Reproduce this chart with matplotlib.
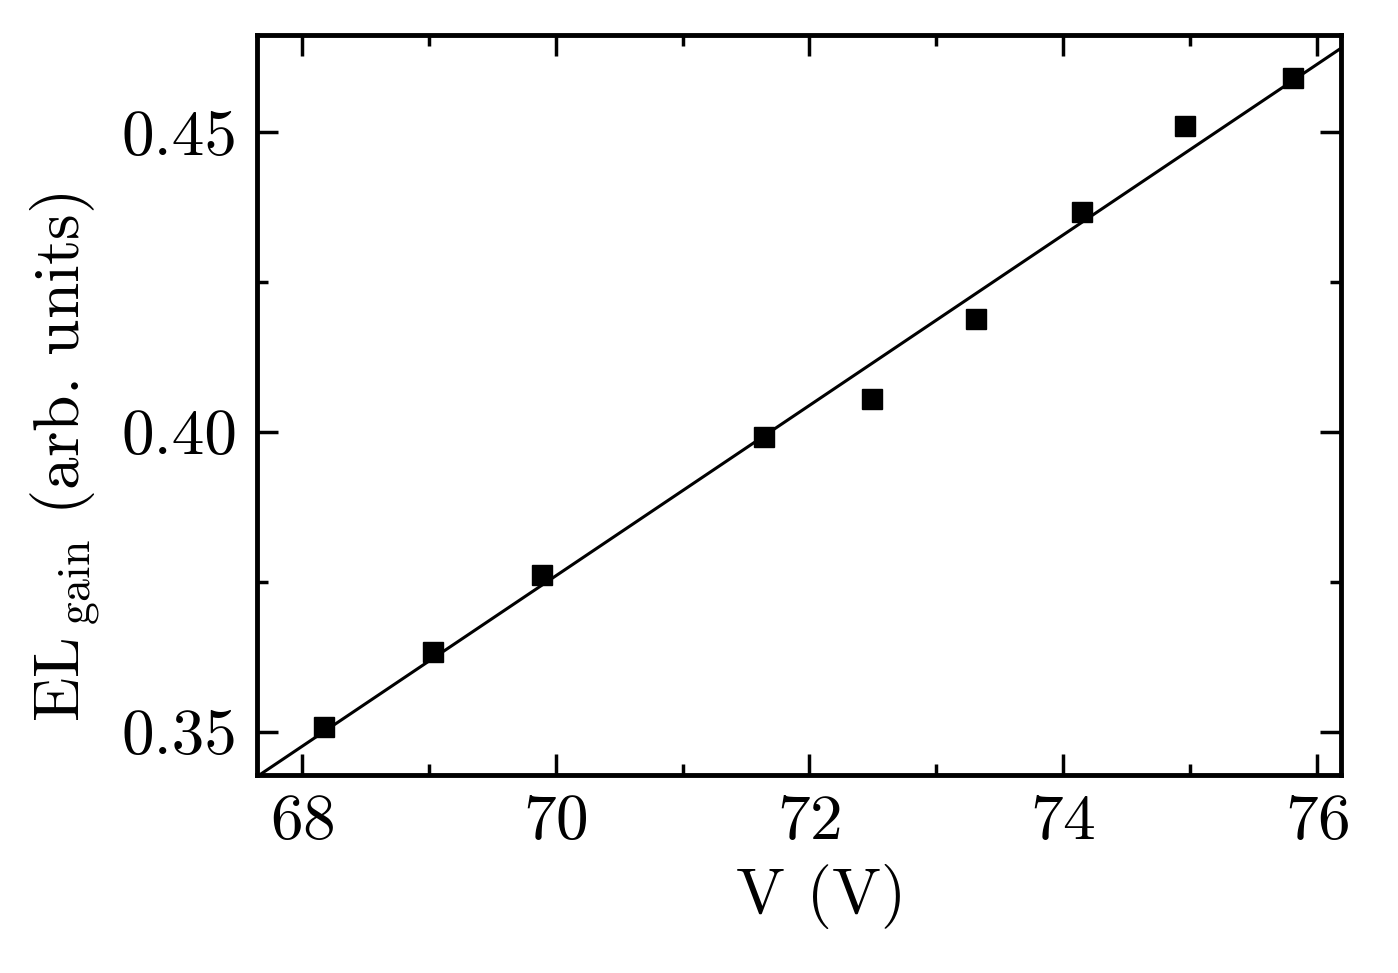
import numpy as np
import matplotlib
matplotlib.use("Agg")
import matplotlib.pyplot as plt
from matplotlib.ticker import MultipleLocator, FormatStrFormatter

voltage = [68.17, 69.03, 69.89, 71.64, 72.49, 73.31, 74.15, 74.96, 75.81]
el_gain = [0.3508, 0.3633, 0.3762, 0.3992, 0.4055, 0.4188, 0.4367, 0.4510, 0.4590]

x_ticks = [68, 70, 72, 74, 76]
y_ticks = [0.35, 0.40, 0.45]

plt.rcParams['font.family'] = ['cmr10', 'DejaVu Serif']
plt.rcParams['mathtext.fontset'] = 'cm'
plt.rcParams['axes.formatter.use_mathtext'] = True

fig = plt.figure(figsize=(13.98, 9.73), dpi=100)
ax = fig.add_axes([0.1838, 0.2035, 0.9592 - 0.1838, 0.964 - 0.2035])

ax.set_xlim(67.645, 76.19)
ax.set_ylim(0.3428, 0.4662)

# linear fit through the points
slope, intercept = np.polyfit(voltage, el_gain, 1)
xf = np.array(ax.get_xlim())
ax.plot(xf, slope * xf + intercept, color='black', linewidth=2.2)

ax.plot(voltage, el_gain, linestyle='none', marker='s', markersize=15,
        color='black')

ax.set_xticks(x_ticks)
ax.set_yticks(y_ticks)
ax.xaxis.set_minor_locator(MultipleLocator(1))
ax.yaxis.set_minor_locator(MultipleLocator(0.025))
ax.yaxis.set_major_formatter(FormatStrFormatter('%.2f'))

ax.tick_params(which='both', direction='in', top=True, right=True,
               labelsize=47, width=2.5, pad=14)
ax.tick_params(which='major', length=15)
ax.tick_params(which='minor', length=8)
for s in ax.spines.values():
    s.set_linewidth(3.5)

ax.set_xlabel('V (V)', fontsize=47, labelpad=8)
ax.xaxis.label.set_x(0.52)
ax.set_ylabel(r'EL$\,{}_{\mathrm{gain}}$ (arb. units)', fontsize=47, labelpad=14)
ax.yaxis.label.set_y(0.43)

fig.savefig('out.png', dpi=100)
